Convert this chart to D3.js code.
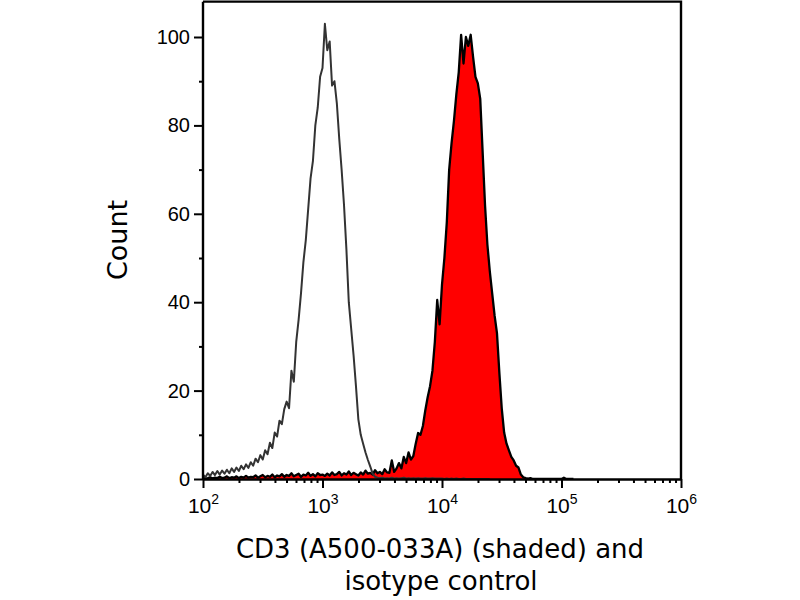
<!DOCTYPE html>
<html lang="en">
<head>
<meta charset="UTF-8" />
<title>CD3 histogram</title>
<script src="https://cdn.jsdelivr.net/npm/d3@7"></script>
<style>
  body { margin: 0; background: #fff; }
  .tick text { font-family: "Liberation Sans", Arial, sans-serif; }
</style>
</head>
<body>
<svg id="vis" width="800" height="600"></svg>
<script>
// log10 channel of the first bin and bin width (log10 units)
var binStart = 2.0;
var binStep = 0.02;

// isotype control (open gray line), bins from 10^2.00
var isotypeCounts = [
  1.0, 0.4, 1.3, 0.7, 1.6, 0.9, 1.8, 1.0, 1.9, 1.2,
  2.1, 1.3, 2.4, 1.6, 2.6, 1.8, 3.0, 2.2, 3.3, 2.5,
  3.8, 3.0, 4.6, 3.8, 5.4, 4.4, 6.5, 5.6, 8.2, 7.0,
  10.5, 9.6, 13.2, 12.4, 15.8, 17.5, 16.0, 24.5, 22.0, 31.0,
  36.0, 42.0, 49.0, 54.0, 61.0, 68.0, 72.0, 80.0, 84.0, 91.0,
  93.0, 103.0, 97.0, 99.0, 89.0, 90.0, 85.0, 77.0, 70.0, 62.0,
  52.0, 40.0, 34.0, 28.0, 21.0, 13.5, 10.0, 8.0, 6.0, 4.3,
  2.8, 1.2, 0.5, 0.3, 0.2, 0.3, 0.1, 0.2, 0.1, 0.3,
  0.1, 0.2, 0.1, 0.2, 0.3, 0.1, 0.2, 0.1, 0.2, 0.1,
  0.2, 0.1, 0.1, 0.2, 0.1, 0.1, 0.2, 0.1, 0.1, 0.1,
  0.1, 0.0, 0.1, 0.0, 0.1, 0.0, 0.1, 0.0, 0.0, 0.1,
  0.0, 0.0, 0.0, 0.0, 0.0, 0.0, 0.0, 0.0, 0.0, 0.0, 0.0
];

// CD3 (A500-033A) stained (red shaded), bins from 10^2.00
var cd3Counts = [
  0.3, 0.1, 0.2, 0.4, 0.1, 0.3, 0.2, 0.5, 0.2, 0.3,
  0.6, 0.2, 0.4, 0.3, 0.6, 0.2, 0.5, 0.3, 0.7, 0.3,
  0.5, 0.4, 0.8, 0.3, 0.6, 0.9, 0.4, 0.7, 0.5, 1.0,
  0.4, 0.8, 0.6, 1.1, 0.5, 0.9, 0.7, 1.3, 0.6, 0.9,
  1.2, 0.5, 1.0, 0.8, 1.4, 0.7, 1.1, 0.6, 1.3, 0.9,
  1.0, 0.7, 1.2, 0.8, 1.5, 0.9, 1.1, 1.6, 0.8, 1.3,
  1.0, 1.7, 0.9, 1.4, 1.1, 0.8, 1.5, 1.0, 1.9, 1.2,
  1.4, 1.0, 2.0, 1.3, 1.6, 1.1, 2.2, 1.5, 1.4, 4.2,
  1.6, 2.4, 3.6, 2.4, 5.0, 3.6, 6.0, 4.4, 5.2, 8.0,
  10.4, 10.0, 12.0, 15.5, 18.5, 21.0, 24.5, 31.0, 40.5, 35.0,
  44.0, 50.0, 58.0, 70.0, 76.0, 81.0, 87.0, 92.0, 100.5, 94.0,
  100.0, 98.0, 100.5, 95.5, 91.0, 89.5, 86.0, 74.0, 62.0, 53.0,
  47.0, 42.0, 37.0, 33.0, 24.0, 16.0, 10.5, 8.0, 6.5, 5.0,
  4.2, 3.0, 2.6, 1.0, 0.4, 0.2, 0.1, 0.2, 0.0, 0.0,
  0.0, 0.0, 0.0, 0.0, 0.0, 0.0, 0.0, 0.0, 0.0, 0.0,
  0.0, 0.3, 0.0, 0.0, 0.0, 0.0
];

var yTicks = [0, 20, 40, 60, 80, 100];
var yMinorTicks = [10, 30, 50, 70, 90];
var xDecades = [2, 3, 4, 5, 6];
var xTitle = ["CD3 (A500-033A) (shaded) and", "isotype control"];
var yTitle = "Count";

var svg = d3.select("#vis");

// Echelles
var x = d3.scaleLog().domain([1e2, 1e6]).range([203, 681]);
var y = d3.scaleLinear().domain([0, 100]).range([479, 37]);
var yTop = 108;

function toPoints(counts) {
  return counts.map(function (c, i) {
    return { v: Math.pow(10, binStart + i * binStep), c: c };
  });
}

svg.append("clipPath").attr("id", "plotClip")
  .append("rect")
  .attr("x", x(1e2)).attr("y", y(yTop))
  .attr("width", x(1e6) - x(1e2)).attr("height", y(0) - y(yTop));

var plot = svg.append("g").attr("clip-path", "url(#plotClip)");

// CD3: red fill + black outline
var cd3 = toPoints(cd3Counts);
var area = d3.area()
  .x(function (d) { return x(d.v); })
  .y0(y(0))
  .y1(function (d) { return y(d.c); });
var line = d3.line()
  .x(function (d) { return x(d.v); })
  .y(function (d) { return y(d.c); });

plot.append("path")
  .attr("d", area(cd3))
  .attr("fill", "#ff0000")
  .attr("stroke", "none");
plot.append("path")
  .attr("d", line(cd3))
  .attr("fill", "none")
  .attr("stroke", "#000")
  .attr("stroke-width", 2.3)
  .attr("stroke-linejoin", "round");

// isotype: gray line
plot.append("path")
  .attr("d", line(toPoints(isotypeCounts)))
  .attr("fill", "none")
  .attr("stroke", "#333")
  .attr("stroke-width", 2)
  .attr("stroke-linejoin", "round");

// Cadre haut / droite
svg.append("path")
  .attr("d", "M" + x(1e2) + "," + y(yTop) + "H" + x(1e6) + "V" + y(0))
  .attr("fill", "none")
  .attr("stroke", "#000")
  .attr("stroke-width", 2.4);

// Axe Y
var gy = svg.append("g").attr("transform", "translate(" + x(1e2) + ",0)");
gy.call(d3.axisLeft(y).tickValues(yTicks).tickSize(9).tickSizeOuter(0).tickPadding(4));
var gyMinor = svg.append("g").attr("transform", "translate(" + x(1e2) + ",0)");
gyMinor.call(d3.axisLeft(y).tickValues(yMinorTicks).tickSize(4).tickFormat(""));
gyMinor.select(".domain").remove();

// vertical axis line up to the frame
gy.select(".domain").attr("d", "M0," + y(0) + "V" + y(yTop));

// Axe X
var majorX = xDecades.map(function (e) { return Math.pow(10, e); });
var minorX = [];
for (var e = 2; e < 6; e++) {
  for (var k = 2; k <= 9; k++) minorX.push(k * Math.pow(10, e));
}
var gx = svg.append("g").attr("transform", "translate(0," + y(0) + ")");
gx.call(d3.axisBottom(x).tickValues(majorX).tickSize(9).tickSizeOuter(0).tickFormat(""));
var gxMinor = svg.append("g").attr("transform", "translate(0," + y(0) + ")");
gxMinor.call(d3.axisBottom(x).tickValues(minorX).tickSize(4).tickFormat(""));
gxMinor.select(".domain").remove();

gx.selectAll(".tick").each(function (d) {
  var t = d3.select(this).select("text")
    .attr("y", 34).attr("dy", null)
    .attr("font-size", 21).attr("fill", "#000")
    .attr("text-anchor", "middle");
  t.append("tspan").text("10");
  t.append("tspan").attr("dy", -9).attr("font-size", 14)
    .text(Math.round(Math.log10(d)));
});

svg.selectAll(".domain").attr("stroke", "#000").attr("stroke-width", 2.4);
svg.selectAll(".tick line").attr("stroke", "#000").attr("stroke-width", 2);
gy.selectAll(".tick text").attr("font-size", 20).attr("fill", "#000");

// Titres
svg.append("text")
  .attr("transform", "translate(127,240) rotate(-90)")
  .attr("text-anchor", "middle")
  .attr("font-family", "DejaVu Sans, sans-serif")
  .attr("font-size", 27)
  .attr("fill", "#000")
  .text(yTitle);

svg.append("text")
  .attr("x", 440).attr("y", 558)
  .attr("text-anchor", "middle")
  .attr("font-family", "DejaVu Sans, sans-serif")
  .attr("font-size", 26)
  .attr("fill", "#000")
  .text(xTitle[0]);
svg.append("text")
  .attr("x", 441).attr("y", 590)
  .attr("text-anchor", "middle")
  .attr("font-family", "DejaVu Sans, sans-serif")
  .attr("font-size", 26)
  .attr("fill", "#000")
  .text(xTitle[1]);
</script>
</body>
</html>
